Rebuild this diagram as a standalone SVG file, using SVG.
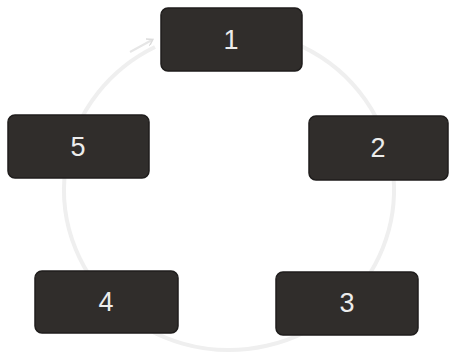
<svg xmlns="http://www.w3.org/2000/svg" width="449" height="363" viewBox="0 0 449 363">
<defs>
<style>
.box{fill:#302d2b;stroke:#1f1d1c;stroke-width:1.5}
.lbl{font-family:"Liberation Sans",Arial,sans-serif;font-size:27px;fill:#ececec;text-anchor:middle;dominant-baseline:central}
.ring{fill:none;stroke:#efefef;stroke-width:4}
</style>
<marker id="ah" markerWidth="8" markerHeight="8" refX="5" refY="4" orient="auto" markerUnits="userSpaceOnUse">
<path d="M0,0 L6,4 L0,8" fill="none" stroke="#dcdcdc" stroke-width="1.5"/>
</marker>
</defs>
<rect width="449" height="363" fill="#ffffff"/>
<g id="connectors">
<path class="ring" d="M155,47 A165,160 0 1 0 230,30"/>
<path d="M130,52 L152,40" fill="none" stroke="#e6e6e6" stroke-width="2" marker-end="url(#ah)"/>
</g>
<g id="node1"><rect class="box" x="161" y="8" width="141" height="63" rx="7"/><text class="lbl" x="231" y="40">1</text></g>
<g id="node2"><rect class="box" x="309" y="116" width="139" height="64" rx="7"/><text class="lbl" x="378" y="148">2</text></g>
<g id="node3"><rect class="box" x="276" y="272" width="142" height="63" rx="7"/><text class="lbl" x="347" y="303">3</text></g>
<g id="node4"><rect class="box" x="35" y="271" width="143" height="62" rx="7"/><text class="lbl" x="106" y="302">4</text></g>
<g id="node5"><rect class="box" x="8" y="115" width="141" height="63" rx="7"/><text class="lbl" x="78" y="147">5</text></g>
</svg>
